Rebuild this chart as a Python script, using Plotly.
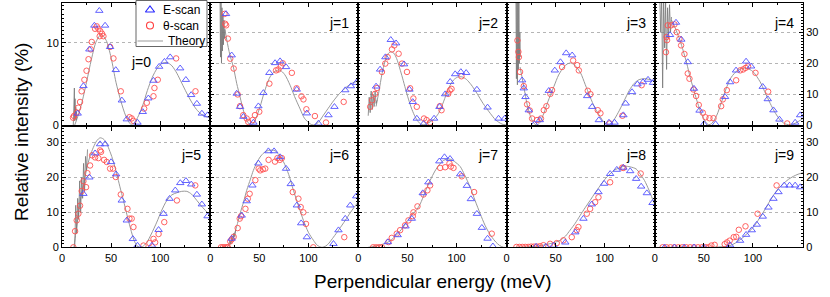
import plotly.graph_objects as go

# ---------------- data ----------------
# j = 0
e_scan_e0 = [16, 21.8, 27.9, 33, 38, 43.9, 49, 54.8, 61, 66, 76.9, 82.3, 88, 93.2, 99, 104.4, 110.2, 120.4, 126.2, 131.6, 137.4, 142.5, 148.3]
e_scan_v0 = [1.4, 4.75, 9.2, 12.1, 13.9, 12.1, 9.5, 6.7, 3.0, 0.7, 0.3, 1.6, 3.25, 5.4, 7.1, 7.7, 8.25, 6.9, 5.5, 3.66, 2.6, 1.4, 1.2]
t_scan_e0 = [11.2, 12.2, 15, 16.5, 18.4, 20, 22.8, 25, 27, 29.3, 30.3, 33.7, 35.4, 37.1, 39.1, 40.8, 42.2, 38.4, 49, 52.4, 59.9, 68.7, 71, 72.8, 83.7, 86.4, 93.2, 94.2, 97.6, 116.3, 136]
t_scan_v0 = [0.9, 1.1, 1.5, 2.1, 2.8, 4.1, 5.5, 6.6, 8.0, 9.2, 10.1, 11.7, 12.0, 11.7, 11.4, 11.1, 10.8, 10.8, 9.5, 8.1, 4.1, 0.95, 0.8, 0.5, 2.0, 2.7, 3.5, 4.5, 5.5, 8.1, 4.1]
theory_e0 = [13, 16, 20, 25, 30, 35, 40, 45, 50, 55, 60, 65, 70, 73, 77, 82, 87, 92, 97, 102, 107, 112, 117, 122, 127, 132, 137, 142, 147, 151]
theory_v0 = [0, 1, 2.6, 5.2, 8, 10.2, 11, 10.3, 8.2, 5.2, 2.9, 1.1, 0.1, 0.2, 0.9, 2.3, 4.2, 5.8, 6.9, 7.5, 7.6, 7.2, 6.3, 5.1, 3.9, 2.8, 1.9, 1.3, 1.0, 0.9]
spike_e0 = [11.5, 12, 12.3, 12.6, 13, 13.3, 13.6, 14, 14.4, 14.8, 15.2]
spike_v0 = [0, 2.5, 0.3, 4.5, 0.5, 3.2, 0.8, 2.2, 0.6, 1.6, 1.0]

# j = 1
e_scan_e1 = [16.1, 21.9, 27, 30.4, 33.8, 44, 49.1, 54.2, 60.3, 66.1, 71.2, 77.3, 88.2, 98.5, 110.3, 120.5, 126.6, 137.6, 143.4, 148.8]
e_scan_v1 = [36, 22.6, 10.2, 5.9, 2.7, 0.8, 6.1, 10.4, 16.9, 20.1, 20.7, 18.8, 11.5, 3.8, 0.5, 3.2, 5.9, 11.3, 12.6, 13.7]
t_scan_e1 = [14.6, 15.3, 16.3, 18, 20.4, 23.9, 28, 30.4, 33.7, 37.2, 38.8, 43.2, 45.6, 50, 60.3, 67.1, 69.5, 71.9, 73.9, 83.2, 88, 93, 95, 98, 106.7, 118, 136]
t_scan_v1 = [36, 32.8, 32.3, 28, 21.5, 18.3, 9.9, 6.1, 3.2, 2.1, 1.0, 1.6, 3.2, 4.3, 13.4, 17.7, 18, 19, 20, 16.9, 11.9, 9.3, 8.3, 5.1, 2.9, 0.8, 7.5]
theory_e1 = [15, 17, 20, 23.6, 27, 30.4, 34, 37.2, 40.6, 44, 47, 50.8, 55, 61, 66, 71, 76, 81.4, 86, 91.6, 96, 101.8, 105, 110, 115.4, 120, 125.6, 132, 139.3, 145, 151]
theory_v1 = [31, 27.4, 22.8, 18.8, 13.5, 9.1, 4.5, 1.6, 0.1, 0.5, 2.5, 5.9, 10.5, 15.6, 17.4, 17.8, 16.3, 12.9, 9.2, 5.2, 2.2, 0.4, 0, 0.8, 3.2, 5.3, 7.8, 10.3, 12.4, 13.6, 14.3]
spike_e1 = [10, 10.5, 11, 11.5, 12, 12.5, 13, 13.5, 14, 14.5, 15]
spike_v1 = [42, 22, 40, 20, 38, 24, 36, 26, 34, 28, 31]

# j = 2
e_scan_e2 = [18, 22.1, 27.5, 33, 38.4, 46.5, 52, 55.4, 59.5, 66.4, 77.1, 82.6, 88.4, 93.5, 98.6, 104.4, 109.8, 120.7, 131.6, 142.8, 149]
e_scan_v2 = [12.5, 18, 22, 27.6, 26.5, 19.7, 11.5, 7.5, 2.1, 0.4, 2.1, 5.9, 10, 14, 16.5, 17.2, 16.9, 11.5, 5.7, 2.1, 2.1]
t_scan_e2 = [12, 14, 17, 19, 24, 27.4, 29.8, 34.2, 36.6, 41, 44.4, 49.5, 52.7, 56, 59.5, 66.8, 69.5, 72.9, 83, 84.7, 91.5, 93.2, 94.9, 105]
t_scan_v2 = [5.9, 8, 10.1, 12, 17.2, 19.9, 22, 24.5, 25.8, 23.1, 19.9, 17.2, 11.9, 8.6, 5.9, 2.1, 1.6, 0.8, 6.1, 4.8, 10.1, 11.2, 11.7, 15.8]
theory_e2 = [18, 21, 24, 27, 30, 33, 36, 39, 42, 45, 48, 51, 54, 57, 60, 63, 66, 69, 72, 76.6, 81.7, 86.7, 92, 97, 101, 105.5, 110, 115, 120.9, 127, 134.3, 140, 146.3, 151]
theory_v2 = [6, 11, 16.5, 20.5, 23, 23.7, 23.3, 21.5, 18.5, 15.2, 11.7, 8.4, 5.5, 3.2, 1.5, 0.4, 0, 0.3, 0.8, 1.8, 3.8, 7.5, 12, 14.6, 15.5, 15.6, 14.8, 13, 10.2, 7, 3.8, 1.6, 0.3, 0]
spike_e2 = [10, 11, 12, 13, 14, 15, 16, 17, 18, 19]
spike_v2 = [3, 9, 4, 11, 5, 10, 6, 11, 7, 8]

# j = 3
e_scan_e3 = [15.8, 17.5, 19.2, 22.6, 28.4, 33.8, 43, 49.1, 54.9, 60.7, 66.8, 82.1, 87.2, 94, 104.3, 110, 119, 121.3, 127.8, 133.3, 139, 144.1, 149.2]
e_scan_v3 = [14.5, 11.9, 9.1, 4.8, 0.3, 1.6, 11.1, 17.7, 20.4, 23.3, 22.6, 9.4, 5.9, 1.6, 0.8, 0.8, 3.2, 7, 10.7, 13.2, 13.9, 14.7, 13.7]
t_scan_e3 = [11, 12, 12.5, 13.7, 17.5, 20.9, 23.6, 26, 31, 35, 37.9, 40.6, 44.6, 46.3, 56.5, 67.8, 71.9, 73.6, 82.7, 85.4, 92.9, 95.6, 105, 118, 137.6]
t_scan_v3 = [27.4, 23.7, 22, 17.2, 12.6, 6.7, 4.7, 2.1, 1.6, 2.1, 4.8, 6.1, 10.1, 11.3, 18.8, 20.9, 19.4, 17.7, 11.1, 10, 4.8, 3.8, 0.5, 3, 12.9]
theory_e3 = [13.7, 16, 18.8, 21, 23.9, 26.5, 29, 31, 34, 37.9, 42, 48.1, 53, 58.3, 62, 65.1, 69, 75.3, 80, 85.1, 90, 95.3, 99, 102, 105, 110, 115, 120, 125, 130, 135, 140, 145, 151]
theory_v3 = [18.8, 15, 10.2, 6.5, 3.2, 1.2, 0.2, 0, 0.8, 3.8, 7.5, 12.4, 16.2, 18.8, 19.8, 20.1, 19.5, 16.9, 13.2, 9.1, 5.5, 2.7, 1, 0.3, 0.2, 2, 4.8, 8, 11.2, 13.5, 14.7, 15, 14.8, 14.2]
spike_e3 = [9.5, 10, 10.5, 11, 11.5, 12, 12.5, 13, 13.5, 14]
spike_v3 = [42, 15, 42, 13, 41, 18, 40, 20, 30, 22]

# j = 4
e_scan_e4 = [15.5, 21.6, 27, 33.6, 39.9, 45.6, 50, 61.9, 71.6, 76.7, 82.8, 93, 98.1, 110, 115.1, 120.9, 127, 143, 148.1]
e_scan_v4 = [29.2, 33.2, 27.7, 20.4, 11.8, 4.7, 0.3, 0.3, 9.1, 13.9, 17.7, 20.6, 19, 12.4, 8.4, 4.8, 1.8, 0.8, 3.2]
t_scan_e4 = [11.4, 12, 12.5, 13.2, 16.6, 20, 22.4, 25.1, 26.8, 30.2, 33.6, 35.3, 39.4, 42.1, 44.8, 48.9, 51.6, 55.7, 59.8, 67.6, 69.3, 73.4, 82.9, 87, 90, 92.5, 95, 102.6, 115.5, 134.9]
t_scan_v4 = [23.6, 28.5, 27.5, 32.3, 32.3, 32.6, 30.1, 27.9, 25.8, 23, 16.7, 15, 11.5, 9.4, 6.5, 4, 2.5, 2.2, 2.2, 6.1, 8.3, 11.3, 14.5, 17.7, 18, 18.5, 19, 16.9, 10.8, 0.5]
theory_e4 = [17, 18.9, 22, 25.7, 29, 32.6, 36, 39.3, 43, 46.1, 50, 53, 55, 58, 63.2, 68, 73.4, 78, 83.6, 89, 93.8, 100, 107.3, 112, 117.6, 122, 127.8, 132, 136.3, 141, 146, 151]
theory_v4 = [34, 32.8, 30.5, 27.4, 24, 19.9, 15.5, 11.8, 7.8, 4.8, 2, 0.5, 0.1, 0.5, 3.2, 7.5, 12.4, 15.5, 17.5, 18.3, 18.4, 17.3, 14, 10.8, 7, 4.3, 1.6, 0.5, 0.1, 0.3, 1.1, 2.1]
spike_e4 = [5, 6, 7, 8, 9, 10, 11, 12, 13, 14, 15, 16, 17]
spike_v4 = [42, 30, 42, 12, 41, 25, 40, 18, 38, 28, 39, 30, 35]

# j = 5
e_scan_e5 = [21.8, 27.9, 33.7, 38.8, 43.9, 50, 55.1, 60.9, 66, 72.2, 76.9, 91.6, 98.4, 103.5, 109.6, 115.4, 120.5, 126.3, 131.7, 137.4, 142.5, 148.3]
e_scan_v5 = [15.3, 20, 26.9, 29.5, 29.5, 24.4, 20.9, 13.4, 7.7, 2.4, 0.5, 0.5, 5, 9.6, 13.9, 16.3, 18.4, 19, 18, 15.1, 12.3, 8.9]
t_scan_e5 = [11.6, 13.3, 15, 16.7, 18.4, 20.1, 21.8, 24.5, 25.9, 28.6, 30.7, 33.7, 37.1, 38.8, 39.8, 42.9, 45.6, 49, 52, 54.8, 59.9, 66.7, 68.7, 71, 72.8, 83, 89.1, 93.2, 94.9, 98.4, 104.2, 117.1, 135.8]
t_scan_v5 = [0, 4.6, 7.7, 9.6, 11.9, 16.1, 18.9, 17.2, 21.2, 23.4, 26.3, 25.7, 25.5, 27.7, 27.3, 25, 24.4, 22.5, 22.5, 20.1, 15.1, 11, 8.2, 8.2, 5.8, 0.5, 1.2, 2.4, 1.4, 3.8, 7.2, 13.4, 17.7]
theory_e5 = [12.2, 14, 16, 18.4, 21, 25.2, 28.5, 32, 35.5, 38.8, 42, 45, 48, 51.5, 55.8, 59, 62.6, 66, 69.4, 72, 74, 76.2, 79, 82, 86.4, 91, 96.6, 101, 106.8, 112, 117, 122, 127.2, 132, 137.4, 142, 147.6, 151]
theory_v5 = [0, 4, 8, 13, 16.5, 22.5, 26, 28.6, 30.5, 31.3, 31, 30, 28, 25.3, 21, 17.3, 13.4, 9.5, 5.8, 3.2, 1.6, 0.5, 0, 0.2, 1.4, 3.8, 7.2, 10.2, 13.4, 15, 15.6, 16, 16, 15.2, 13.4, 11.8, 10.1, 9]
spike_e5 = [13, 14, 15, 16, 17, 18, 19, 20, 21, 22, 23, 24, 25, 26]
spike_v5 = [0, 12, 4, 14, 8, 19, 10, 20, 14, 24, 16, 26, 22, 28]

# j = 6
e_scan_e6 = [21.9, 32.1, 37.2, 43, 49.1, 59.3, 65.1, 71.2, 77.3, 82.1, 88.3, 92.7, 98.5, 125.6, 130.7, 137.6, 142.7, 148.8]
e_scan_v6 = [2.5, 9.1, 13.2, 17.7, 24, 27.5, 27.5, 25.8, 22.5, 18.1, 12, 6.9, 2.9, 1, 4.9, 8.2, 12, 14.6]
t_scan_e6 = [11, 13, 15, 17, 18, 20.4, 22, 23.9, 28, 30.1, 31.4, 35.9, 38.3, 40.2, 46, 49.4, 51, 53.7, 56.1, 59.5, 66, 68.5, 71, 73, 84.1, 89.9, 92.2, 94.9, 97.6, 105, 136.6]
t_scan_v6 = [0, 0, 0, 0, 0, 1.7, 2.3, 3, 5.5, 8.2, 8.9, 11, 13.9, 15.3, 19.2, 22.5, 22, 22.3, 22.5, 25, 24.5, 25.5, 25, 25.5, 15.8, 13.9, 11.5, 10, 6.7, 0, 2.9]
theory_e6 = [10, 16.8, 20, 23.6, 27, 30.4, 34, 37.2, 41, 44, 47.5, 50.8, 55, 59.3, 63, 66.1, 70, 74.6, 80, 84.8, 90, 95, 100, 105.2, 109, 113.8, 118, 121, 125.6, 131, 137.6, 143, 149.5, 151]
theory_v6 = [0, 0, 0.8, 2.9, 6, 9.6, 13, 16.3, 19.5, 22, 24.2, 25.8, 27.1, 27.7, 27.8, 27.6, 26.5, 24.5, 20.8, 16.3, 11.8, 7.7, 4.3, 2, 0.6, 0, 0.4, 1.2, 2.9, 5, 7.7, 10, 12.5, 13]
spike_e6 = [19, 20, 21, 22, 23, 24, 25, 26]
spike_v6 = [0.5, 2, 1, 3, 1.8, 4, 3, 5]

# j = 7
e_scan_e7 = [30, 40, 48, 54.4, 65.6, 71.3, 82.5, 87.7, 93.4, 103.7, 110.5, 114.6, 120.7, 125.8, 131.6, 137]
e_scan_v7 = [1.5, 3.5, 6, 8.2, 15.5, 18.6, 24.6, 25.8, 25.3, 20.9, 17.6, 13.8, 9.6, 5.6, 2.5, 0.3]
t_scan_e7 = [15, 18, 21, 24, 30.6, 34, 39.1, 42.5, 47.6, 51, 55.4, 56.1, 60.2, 66.3, 70.3, 73.1, 83.3, 88.4, 92.8, 94.2, 96.9, 105.3, 117.9, 135.9]
t_scan_v7 = [0, 0, 0, 0, 1.5, 2.7, 3.9, 4.9, 6.3, 7.7, 8.9, 10, 11.7, 15.1, 16.3, 17.7, 22.7, 22.9, 24, 23.1, 22.7, 20.3, 15.8, 3.9]
theory_e7 = [10, 15.2, 20, 25, 28.9, 33, 38, 42, 45.8, 50, 55, 59.5, 63, 68, 73.1, 78, 82, 86.6, 90, 93.5, 98, 103.7, 108, 113.9, 119, 124.1, 129, 133, 136, 140, 144, 147.9, 151]
theory_v7 = [0, 0.2, 0.5, 0.9, 1.3, 2, 3.3, 4.5, 5.8, 7.6, 9.4, 10.8, 12.4, 15.8, 19.1, 21.8, 23.5, 24.8, 25.2, 25.2, 24.5, 23.1, 20.8, 17.2, 13.3, 9.6, 6.3, 4.2, 2.9, 1.5, 0.5, 0, 0]

# j = 8
e_scan_e8 = [30, 40, 47.9, 59.8, 70, 78.3, 86.8, 93.6, 99.4, 105.5, 112.3, 119, 125.9, 132, 137.1, 142.9, 148.7]
e_scan_v8 = [0.2, 0.2, 0.5, 1.4, 4.3, 8.2, 12.3, 15.8, 18.2, 21, 22.2, 22.8, 21.8, 19.6, 17.4, 15.5, 12.7]
t_scan_e8 = [10, 13, 16, 19, 22, 25, 28, 31, 34, 37.5, 44.3, 51.1, 57.9, 66.4, 71.5, 73.2, 81.7, 85.1, 90.2, 93.6, 105.5, 117.9, 119.1, 136.6]
t_scan_v8 = [0.1, 0.1, 0.1, 0.1, 0.1, 0.2, 0.2, 0.2, 0.3, 0.6, 1, 1.2, 2, 2.9, 4.9, 5.8, 9.6, 11, 12.9, 14.3, 18.6, 22.8, 22.7, 21.1]
theory_e8 = [10, 20, 30, 37.5, 45, 50, 54.5, 60, 64.7, 70, 74.9, 80, 85.1, 90, 95.3, 100, 105.5, 110, 115.7, 120, 126, 132, 136, 140.5, 145, 150, 151]
theory_v8 = [0, 0.1, 0.3, 0.6, 1.1, 1.5, 2, 3.2, 4.9, 6.9, 9.1, 11.3, 13.4, 15.5, 17.6, 19.4, 21, 22.1, 22.8, 23.2, 23, 22.4, 21, 19.1, 16.4, 12.9, 12.3]

# j = 9
e_scan_e9 = [10, 20, 30, 40, 50, 76.7, 86.9, 93, 98.8, 103.9, 110, 115.8, 120.9, 126, 131.8, 137.3, 143, 148.1]
e_scan_v9 = [0, 0, 0, 0, 0, 0.6, 1.9, 3.6, 4.9, 6.5, 8.8, 11.4, 13.9, 15.8, 17.7, 17.7, 17.7, 17.2]
t_scan_e9 = [8, 12, 16, 20, 24, 28, 32, 36, 40, 44, 48, 52, 55, 57.6, 61, 71.2, 73.6, 76.3, 80.4, 83, 85.6, 92.4, 104.7, 124.1]
t_scan_v9 = [0, 0, 0, 0, 0, 0, 0, 0, 0, 0, 0, 0, 0, 0.5, 0.7, 0.9, 1.4, 1.9, 2.9, 3, 5, 6, 9.6, 17.7]
theory_e9 = [10, 30, 50, 56.3, 65, 70, 76.7, 82, 86, 90.3, 95, 100.5, 105, 110.7, 115, 120.9, 126, 131.1, 136, 141.3, 146, 151]
theory_v9 = [0, 0, 0, 0, 0.1, 0.2, 0.5, 1.2, 2, 2.9, 4.2, 5.8, 7.6, 10.1, 12.2, 14.9, 16.8, 18.2, 19.4, 20.3, 20.9, 21.3]

panel_labels = ["j=0", "j=1", "j=2", "j=3", "j=4", "j=5", "j=6", "j=7", "j=8", "j=9"]
legend_labels = ["E-scan", "θ-scan", "Theory"]
x_ticks = [0, 50, 100]
y_ticks = [0, 10, 20, 30]
x_range = [0, 151]
y_range_j0 = [0, 14.9]
y_range_top = [0, 39.7]
y_range_bottom = [0, 34.4]

E_E = [e_scan_e0, e_scan_e1, e_scan_e2, e_scan_e3, e_scan_e4, e_scan_e5, e_scan_e6, e_scan_e7, e_scan_e8, e_scan_e9]
E_V = [e_scan_v0, e_scan_v1, e_scan_v2, e_scan_v3, e_scan_v4, e_scan_v5, e_scan_v6, e_scan_v7, e_scan_v8, e_scan_v9]
T_E = [t_scan_e0, t_scan_e1, t_scan_e2, t_scan_e3, t_scan_e4, t_scan_e5, t_scan_e6, t_scan_e7, t_scan_e8, t_scan_e9]
T_V = [t_scan_v0, t_scan_v1, t_scan_v2, t_scan_v3, t_scan_v4, t_scan_v5, t_scan_v6, t_scan_v7, t_scan_v8, t_scan_v9]
TH_E = [theory_e0, theory_e1, theory_e2, theory_e3, theory_e4, theory_e5, theory_e6, theory_e7, theory_e8, theory_e9]
TH_V = [theory_v0, theory_v1, theory_v2, theory_v3, theory_v4, theory_v5, theory_v6, theory_v7, theory_v8, theory_v9]
SP_E = [spike_e0, spike_e1, spike_e2, spike_e3, spike_e4, spike_e5, spike_e6, None, None, None]
SP_V = [spike_v0, spike_v1, spike_v2, spike_v3, spike_v4, spike_v5, spike_v6, None, None, None]

# ---------------- layout geometry ----------------
W, H = 830, 297
LEFT, PW = 62.0, 148.2
TOP_ROW = (2.5, 125.0)       # pixel top, bottom
BOT_ROW = (127.0, 247.3)
BLUE = "rgb(80,80,255)"
RED = "rgb(255,80,80)"
GRAY = "#999"
FONT = "Liberation Sans, Arial, sans-serif"
# legend box (pixels): left, right, top, bottom
LG = (136.0, 207.0, 0.5, 46.5)

fig = go.Figure()
layout = dict(
    width=W, height=H, margin=dict(l=0, r=0, t=0, b=0, autoexpand=False),
    paper_bgcolor="white", plot_bgcolor="white",
    font=dict(family=FONT, size=11, color="black"),
    showlegend=False,
)
annotations = []
shapes = []

for j in range(10):
    k = j + 1
    row = 0 if j < 5 else 1
    col = j % 5
    x0 = LEFT + PW * col
    xd = [x0 / W, (x0 + PW) / W]
    top, bot = TOP_ROW if row == 0 else BOT_ROW
    yd = [(H - bot) / H, (H - top) / H]
    if j == 0:
        yr = y_range_j0
        ytv = [0, 10]
        ymin = 0.5
    elif row == 0:
        yr = y_range_top
        ytv = y_ticks
        ymin = 1
    else:
        yr = y_range_bottom
        ytv = y_ticks
        ymin = 1
    show_y = col in (0, 4)
    side = "right" if col == 4 else "left"
    xa = "x" if k == 1 else f"x{k}"
    ya = "y" if k == 1 else f"y{k}"

    layout["xaxis" if k == 1 else f"xaxis{k}"] = dict(
        domain=xd, anchor=ya, range=x_range, tickvals=x_ticks, automargin=False,
        showticklabels=(row == 1), ticks="inside", ticklen=4, tickcolor="black",
        minor=dict(tickvals=[25, 75, 125], ticks="inside", ticklen=2, tickcolor="black"),
        showline=True, linecolor="black", linewidth=1, mirror="ticks",
        showgrid=False, zeroline=False, tickfont=dict(size=11),
    )
    layout["yaxis" if k == 1 else f"yaxis{k}"] = dict(
        domain=yd, anchor=xa, range=yr, tickvals=ytv, side=side, automargin=False,
        showticklabels=show_y, ticks="inside", ticklen=4, tickcolor="black",
        minor=dict(dtick=ymin, ticks="inside", ticklen=2, tickcolor="black", showgrid=False),
        showline=True, linecolor="black", linewidth=1, mirror="ticks",
        showgrid=True, gridcolor="#b5b5b5", griddash="dot", gridwidth=1,
        zeroline=False, tickfont=dict(size=11),
    )

    fig.add_trace(go.Scatter(
        x=TH_E[j], y=TH_V[j], mode="lines", line=dict(color=GRAY, width=1, shape="spline", smoothing=0.8),
        name="Theory", xaxis=xa, yaxis=ya))
    if SP_E[j] is not None:
        fig.add_trace(go.Scatter(
            x=SP_E[j], y=SP_V[j], mode="lines", line=dict(color="#777", width=0.8),
            xaxis=xa, yaxis=ya, hoverinfo="skip"))
    fig.add_trace(go.Scatter(
        x=T_E[j], y=T_V[j], mode="markers",
        marker=dict(symbol="circle-open", size=5.5, color=RED, line=dict(width=0.9)),
        name="θ-scan", xaxis=xa, yaxis=ya))
    fig.add_trace(go.Scatter(
        x=E_E[j], y=E_V[j], mode="markers",
        marker=dict(symbol="triangle-up-open", size=6.5, color=BLUE, line=dict(width=0.9)),
        name="E-scan", xaxis=xa, yaxis=ya))

    if j == 0:
        annotations.append(dict(text=panel_labels[j], xref="paper", yref="paper",
                                x=141 / W, y=(H - 62) / H, xanchor="center", yanchor="middle",
                                showarrow=False, font=dict(size=14)))
    else:
        cy = 22.5 if row == 0 else 155
        annotations.append(dict(text=panel_labels[j], xref="paper", yref="paper",
                                x=(x0 + PW - 7) / W, y=(H - cy) / H, xanchor="right", yanchor="middle",
                                showarrow=False, font=dict(size=14)))

# ---------------- hand-made legend (key samples on a hidden overlay axis) ----------------
lx0, lx1, ly0, ly1 = LG
layout["xaxis11"] = dict(domain=[lx0 / W, lx1 / W], anchor="y11", range=[0, 1], visible=False,
                         fixedrange=True, automargin=False)
layout["yaxis11"] = dict(domain=[(H - ly1) / H, (H - ly0) / H], anchor="x11", range=[1, 0], visible=False,
                         fixedrange=True, automargin=False)
# opaque legend background (drawn in the overlay subplot, above panel j=0)
fig.add_trace(go.Scatter(x=[0, 1, 1, 0, 0], y=[0, 0, 1, 1, 0], mode="lines", fill="toself",
                         fillcolor="white", line=dict(width=0, color="white"),
                         xaxis="x11", yaxis="y11", hoverinfo="skip", cliponaxis=False))
shapes.append(dict(type="rect", xref="paper", yref="paper",
                   x0=lx0 / W, x1=lx1 / W, y0=(H - ly1) / H, y1=(H - ly0) / H,
                   line=dict(color="#666", width=1), fillcolor="rgba(0,0,0,0)", layer="above"))
row_y = [10.0, 25.5, 41.0]
key_x = (150.0 - lx0) / (lx1 - lx0)
fig.add_trace(go.Scatter(x=[key_x], y=[(row_y[0] - ly0) / (ly1 - ly0)], mode="markers", xaxis="x11", yaxis="y11",
                         marker=dict(symbol="triangle-up-open", size=8, color="rgb(40,40,255)", line=dict(width=1.1)),
                         hoverinfo="skip", cliponaxis=False))
fig.add_trace(go.Scatter(x=[key_x], y=[(row_y[1] - ly0) / (ly1 - ly0)], mode="markers", xaxis="x11", yaxis="y11",
                         marker=dict(symbol="circle-open", size=7, color="rgb(255,60,60)", line=dict(width=1.1)),
                         hoverinfo="skip", cliponaxis=False))
fig.add_trace(go.Scatter(x=[(137.5 - lx0) / (lx1 - lx0), (163.0 - lx0) / (lx1 - lx0)],
                         y=[(row_y[2] - ly0) / (ly1 - ly0)] * 2, mode="lines", xaxis="x11", yaxis="y11",
                         line=dict(color=GRAY, width=1), hoverinfo="skip", cliponaxis=False))
for i, lab in enumerate(legend_labels):
    annotations.append(dict(text=lab, xref="paper", yref="paper", x=(160.5 if i < 2 else 165.5) / W,
                            y=(H - row_y[i]) / H, xanchor="left", yanchor="middle",
                            showarrow=False, font=dict(size=12)))

annotations.append(dict(text="Relative intensity (%)", xref="paper", yref="paper",
                        x=21 / W, y=(H - 132) / H, textangle=-90, showarrow=False,
                        xanchor="center", yanchor="middle", font=dict(size=19)))
annotations.append(dict(text="Perpendicular energy (meV)", xref="paper", yref="paper",
                        x=432.5 / W, y=(H - 281) / H, showarrow=False,
                        xanchor="center", yanchor="middle", font=dict(size=19)))
layout["annotations"] = annotations
layout["shapes"] = shapes
fig.update_layout(**layout)
fig.write_html("out.html", config={"displayModeBar": False},
               post_script="document.body.style.margin='0';document.body.style.overflow='hidden';")
